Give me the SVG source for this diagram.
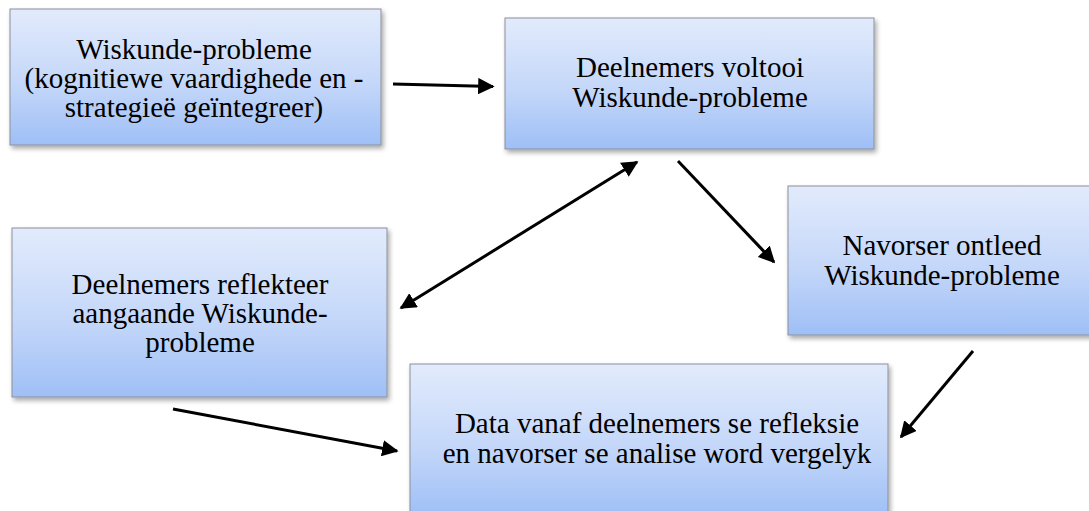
<svg xmlns="http://www.w3.org/2000/svg" width="1089" height="511" viewBox="0 0 1089 511">
  <style>
    .box { fill: url(#boxFill); stroke: #8c9099; stroke-width: 1; filter: url(#shadow); }
    .lbl { font-family: 'Liberation Serif', serif; font-size: 29px; fill: #000; text-anchor: middle; }
    .arr { stroke: #000; stroke-width: 3; fill: none; }
  </style>
  <defs>
    <linearGradient id="boxFill" x1="0" y1="0" x2="0" y2="1">
      <stop offset="0" stop-color="#e2ebfc"/>
      <stop offset="0.55" stop-color="#c4d7f9"/>
      <stop offset="1" stop-color="#9ebff6"/>
    </linearGradient>
    <filter id="shadow" x="-5%" y="-5%" width="115%" height="120%">
      <feGaussianBlur in="SourceAlpha" stdDeviation="2.5"/>
      <feOffset dx="2" dy="3" result="b"/>
      <feComponentTransfer><feFuncA type="linear" slope="0.35"/></feComponentTransfer>
      <feMerge><feMergeNode/><feMergeNode in="SourceGraphic"/></feMerge>
    </filter>
    <marker id="tip" viewBox="0 0 10 10" refX="9" refY="5" markerWidth="5.5" markerHeight="5.5" orient="auto-start-reverse">
      <path d="M0,0 L10,5 L0,10 Z" fill="#000"/>
    </marker>
  </defs>

  <!-- connectors -->
  <g id="connectors">
    <line class="arr" x1="393" y1="84" x2="493" y2="86.5" marker-end="url(#tip)"/>
    <line class="arr" x1="401" y1="308" x2="637" y2="162" marker-start="url(#tip)" marker-end="url(#tip)"/>
    <line class="arr" x1="678" y1="161" x2="774" y2="262" marker-end="url(#tip)"/>
    <line class="arr" x1="973" y1="351" x2="901" y2="437" marker-end="url(#tip)"/>
    <line class="arr" x1="173" y1="409" x2="397" y2="451" marker-end="url(#tip)"/>
  </g>

  <g id="node-problems">
    <rect class="box" x="10" y="9" width="371" height="136"/>
    <text class="lbl" x="194" y="59">Wiskunde-probleme</text>
    <text class="lbl" x="194" y="88">(kognitiewe vaardighede en -</text>
    <text class="lbl" x="194" y="117">strategieë geïntegreer)</text>
  </g>

  <g id="node-complete">
    <rect class="box" x="505" y="18" width="369" height="131"/>
    <text class="lbl" x="690" y="77">Deelnemers voltooi</text>
    <text class="lbl" x="690" y="107">Wiskunde-probleme</text>
  </g>

  <g id="node-reflect">
    <rect class="box" x="12" y="228" width="375" height="169"/>
    <text class="lbl" x="200" y="294">Deelnemers reflekteer</text>
    <text class="lbl" x="200" y="323">aangaande Wiskunde-</text>
    <text class="lbl" x="200" y="352">probleme</text>
  </g>

  <g id="node-analyse">
    <rect class="box" x="788" y="186" width="308" height="149"/>
    <text class="lbl" x="942" y="255">Navorser ontleed</text>
    <text class="lbl" x="942" y="285">Wiskunde-probleme</text>
  </g>

  <g id="node-compare">
    <rect class="box" x="410" y="364" width="478" height="152"/>
    <text class="lbl" x="657" y="433">Data vanaf deelnemers se refleksie</text>
    <text class="lbl" x="657" y="463">en navorser se analise word vergelyk</text>
  </g>
</svg>
